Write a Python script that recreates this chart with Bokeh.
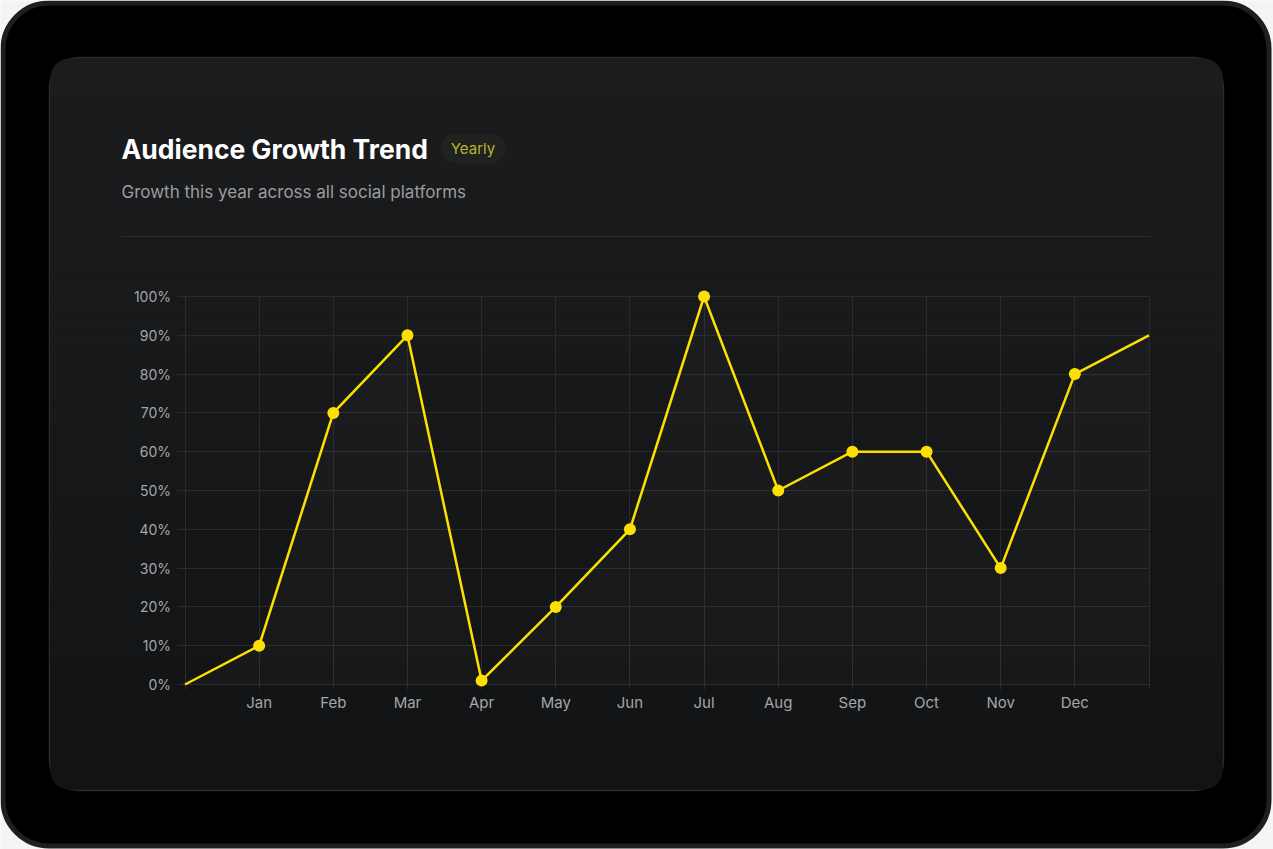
from bokeh.plotting import figure
from bokeh.models import (Range1d, BoxAnnotation, Label, FixedTicker, LinearAxis,
                          PrintfTickFormatter, ColumnDataSource)
from bokeh.embed import file_html
from bokeh.resources import INLINE

# ---------------- data ----------------
months = ["Jan", "Feb", "Mar", "Apr", "May", "Jun",
          "Jul", "Aug", "Sep", "Oct", "Nov", "Dec"]
growth = [10, 70, 90, 1, 20, 40, 100, 50, 60, 60, 30, 80]
start_value = 0
end_value = 90
y_ticks = [0, 10, 20, 30, 40, 50, 60, 70, 80, 90, 100]

title_text = "Audience Growth Trend"
badge_text = "Yearly"
subtitle_text = "Growth this year across all social platforms"

# ---------------- derived ----------------
month_pos = list(range(1, len(months) + 1))
line_x = [0] + month_pos + [len(months) + 1]
line_y = [start_value] + growth + [end_value]
x_last = len(months) + 1

W, H = 1273, 849
FL, FR, FT, FB = 184.5, 1148.5, 296, 684   # chart area in page pixels
ppx = (FR - FL) / x_last
ppy = (FB - FT) / 100.0

p = figure(width=W, height=H, output_backend="svg", toolbar_location=None,
           x_range=Range1d(-FL / ppx, (W - FL) / ppx),
           y_range=Range1d(-(H - FB) / ppy, FB / ppy),
           x_axis_location=None, y_axis_location=None,
           min_border=0, tools="")
p.grid.visible = False
p.border_fill_color = "#f4f4f4"
p.background_fill_color = "#f4f4f4"
p.outline_line_color = None

# pixel-space ranges for the decoration
p.extra_x_ranges = {"px": Range1d(0, W)}
p.extra_y_ranges = {"py": Range1d(H, 0)}


def box(l, r, t, b, **kw):
    kw.setdefault("level", "image")
    kw.setdefault("fill_alpha", 1.0)
    kw.setdefault("line_alpha", 1.0)
    bx = BoxAnnotation(left=l, right=r, top=t, bottom=b,
                       x_range_name="px", y_range_name="py", **kw)
    p.add_layout(bx)
    return bx


def grad(f):
    c0 = (27, 28, 30)
    c1 = (17, 19, 21)
    return "#%02x%02x%02x" % tuple(int(round(c0[k] + (c1[k] - c0[k]) * f)) for k in range(3))


# device bezel
box(2.5, 1268.5, 2.5, 845.5, fill_color="#000000", line_color="#1d1e20",
    line_width=5, border_radius=46)

# card with gradient
CL, CR, CT, CB = 49, 1223, 57, 790
box(CL, CR, CT, CB, fill_color="#1b1c1e", line_color="#2a2b2d",
    line_width=1.5, border_radius=30)
nb = 40
ih = (CB - CT - 2) / nb
for i in range(nb):
    t = CT + 1 + i * ih
    b = t + ih + 0.6
    f = (i + 0.5) / nb
    if i == 0:
        rad = (29, 29, 0, 0)
    elif i == nb - 1:
        rad = (0, 0, 29, 29)
        b = CB - 1
    else:
        rad = 0
    box(CL + 1, CR - 1, t, b, fill_color=grad(f), line_color=None, border_radius=rad)

# separator
box(121, 1150, 235.5, 236.5, fill_color="#2a2c2e", line_color=None)

# badge pill
box(440, 505, 133, 163, fill_color="#1f221f", line_color=None, border_radius=15)

# texts
p.add_layout(Label(x=121, y=148, text=title_text, x_range_name="px", y_range_name="py",
                   text_font="Inter", text_font_style="bold", text_font_size="26.5px",
                   text_color="#ffffff", text_baseline="middle", text_align="left"))
p.add_layout(Label(x=472.5, y=148, text=badge_text, x_range_name="px", y_range_name="py",
                   text_font="Inter", text_font_size="15px",
                   text_color="#b7b42c", text_baseline="middle", text_align="center"))
p.add_layout(Label(x=121, y=191, text=subtitle_text, x_range_name="px", y_range_name="py",
                   text_font="Inter", text_font_size="17px",
                   text_color="#9c9d9f", text_baseline="middle", text_align="left"))

# ---------------- axes (ticks double as the grid) ----------------
grid_col = "#292b2d"
label_col = "#a4a6a8"

ya = LinearAxis(fixed_location=0, bounds=(0, 100), level="underlay",
                ticker=FixedTicker(ticks=y_ticks),
                formatter=PrintfTickFormatter(format="%d%%"))
ya.axis_line_color = grid_col
ya.major_tick_line_color = grid_col
ya.major_tick_out = 8
ya.major_tick_in = int(round(FR - FL))
ya.minor_tick_line_color = None
ya.major_label_standoff = 6
ya.major_label_text_font = "Inter"
ya.major_label_text_font_size = "14px"
ya.major_label_text_color = label_col
p.add_layout(ya, "left")

overrides = {x: "" for x in line_x}
for pos, m in zip(month_pos, months):
    overrides[pos] = m
xa = LinearAxis(fixed_location=0, bounds=(0, x_last), level="underlay",
                ticker=FixedTicker(ticks=line_x))
xa.major_label_overrides = overrides
xa.axis_line_color = grid_col
xa.major_tick_line_color = grid_col
xa.major_tick_out = 5
xa.major_tick_in = FB - FT
xa.minor_tick_line_color = None
xa.major_label_standoff = 3
xa.major_label_text_font = "Inter"
xa.major_label_text_font_size = "15px"
xa.major_label_text_color = label_col
p.add_layout(xa, "below")

# ---------------- series ----------------
src_line = ColumnDataSource(dict(x=line_x, y=line_y, base=[0] * len(line_x)))
src_pts = ColumnDataSource(dict(x=month_pos, y=growth))

p.varea(x="x", y1="base", y2="y", source=src_line, fill_color="#ffffff", fill_alpha=0.02)
p.line(x="x", y="y", source=src_line, line_color="#fde000", line_width=2.5)
p.scatter(x="x", y="y", source=src_pts, size=12, fill_color="#fde000",
          line_color=None)

open("out.html", "w").write(file_html(p, INLINE))
